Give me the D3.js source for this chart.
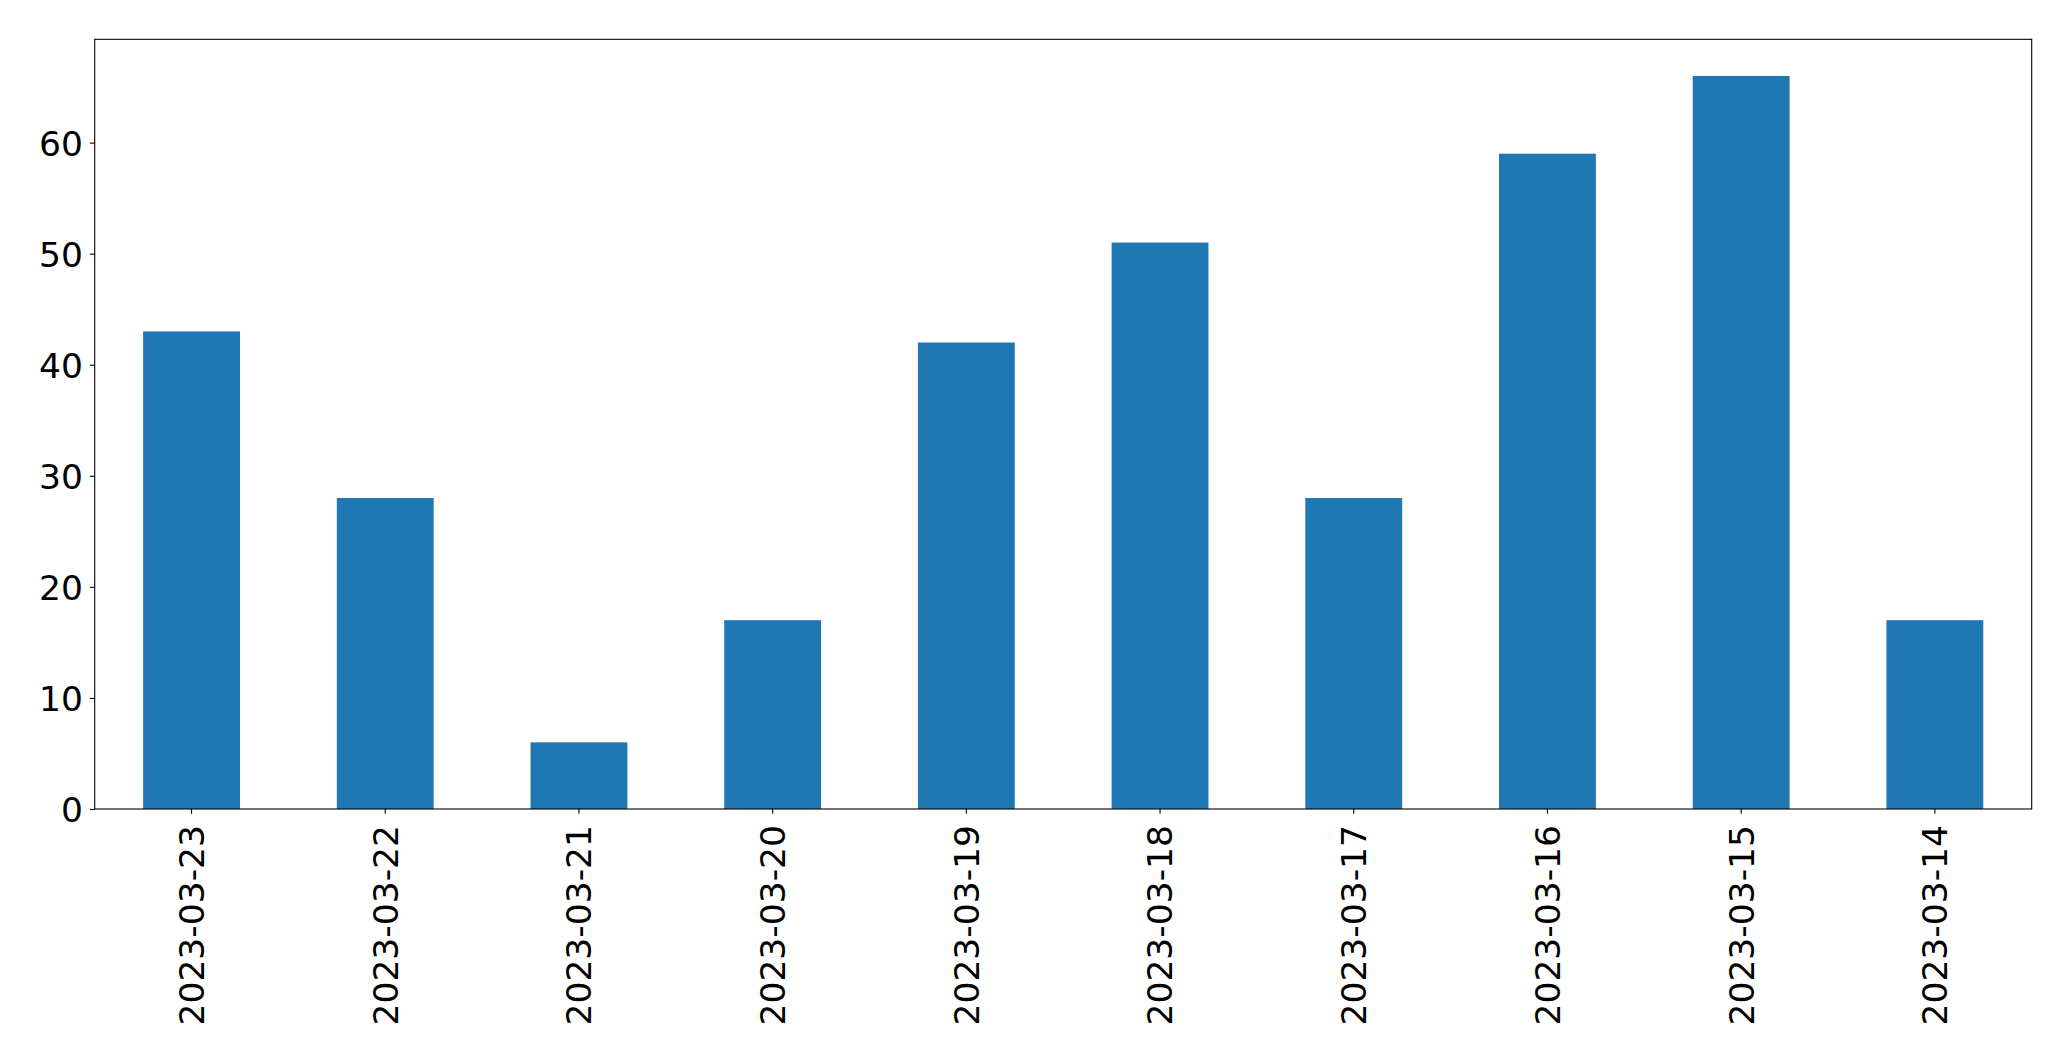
<!DOCTYPE html>
<html>
<head>
<meta charset="utf-8">
<script src="https://cdn.jsdelivr.net/npm/d3@7"></script>
<style>
  html, body { margin: 0; padding: 0; background: #fff; }
  svg { display: block; }
  text { font-family: "DejaVu Sans", sans-serif; fill: #000; }
</style>
</head>
<body>
<svg id="chart" width="2071" height="1061"></svg>
<script>
const categories = ["2023-03-23","2023-03-22","2023-03-21","2023-03-20","2023-03-19","2023-03-18","2023-03-17","2023-03-16","2023-03-15","2023-03-14"];
const values = [43, 28, 6, 17, 42, 51, 28, 59, 66, 17];
const yTicks = [0, 10, 20, 30, 40, 50, 60];

const W = 2071, H = 1061;
const margin = { left: 94.7, right: W - 2031.7, top: 39.3, bottom: H - 809 };
const iw = W - margin.left - margin.right;
const ih = H - margin.top - margin.bottom;

const svg = d3.select("#chart");
const g = svg.append("g").attr("transform", `translate(${margin.left},${margin.top})`);

const x = d3.scaleBand().domain(categories).range([0, iw]).paddingInner(0.5).paddingOuter(0.25);
const yMax = d3.max(values) * 1.05;
const y = d3.scaleLinear().domain([0, yMax]).range([ih, 0]);

g.selectAll("rect.bar").data(values).enter().append("rect")
  .attr("class", "bar")
  .attr("x", (d, i) => x(categories[i]))
  .attr("width", x.bandwidth())
  .attr("y", d => y(d))
  .attr("height", d => ih - y(d))
  .attr("fill", "#1f77b4");

const fs = 34.5;
const yAxis = d3.axisLeft(y).tickValues(yTicks).tickSize(4.86).tickPadding(7).tickFormat(d3.format("d"));
const ya = g.append("g").call(yAxis);
ya.select(".domain").remove();
ya.selectAll("line").attr("stroke", "#000").attr("stroke-width", 1.1);
ya.selectAll("text").style("font-size", fs + "px").style("font-family", "DejaVu Sans").attr("dy", "0.36em");

const xAxis = d3.axisBottom(x).tickSize(4.86).tickPadding(0);
const xa = g.append("g").attr("transform", `translate(0,${ih})`).call(xAxis);
xa.select(".domain").remove();
xa.selectAll("line").attr("stroke", "#000").attr("stroke-width", 1.1);
xa.selectAll("text")
  .style("font-size", fs + "px").style("font-family", "DejaVu Sans")
  .attr("text-anchor", "end")
  .attr("x", 0).attr("y", 0).attr("dy", "0.36em")
  .attr("transform", "translate(0,16) rotate(-90)");

g.append("rect").attr("x", 0).attr("y", 0).attr("width", iw).attr("height", ih)
  .attr("fill", "none").attr("stroke", "#000").attr("stroke-width", 1.1);
</script>
</body>
</html>
